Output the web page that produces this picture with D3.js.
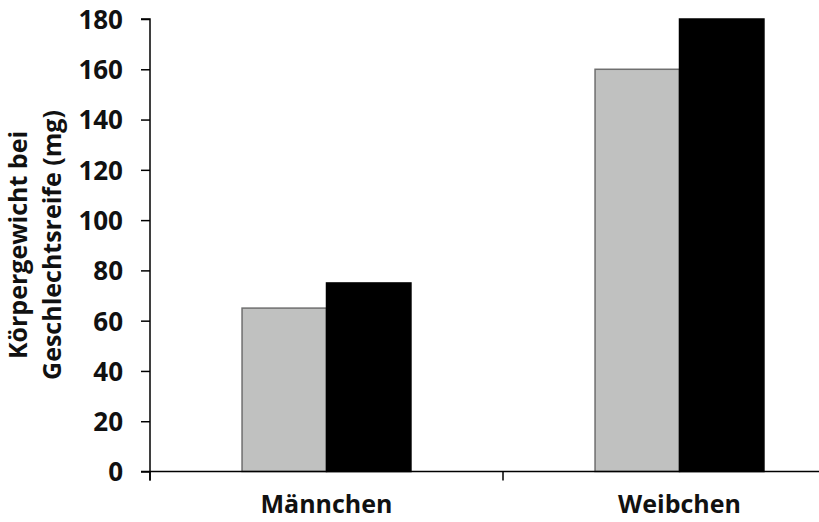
<!DOCTYPE html>
<html>
<head>
<meta charset="utf-8">
<script src="https://cdn.jsdelivr.net/npm/d3@7"></script>
<style>
  html, body { margin: 0; padding: 0; background: #fff; }
  svg { display: block; }
  text { font-family: "Open Sans", "DejaVu Sans", sans-serif; font-weight: 700; fill: #111; }
</style>
</head>
<body>
<svg id="chart" width="819" height="522"></svg>
<script>
// ---- data ----
const categories = ["Männchen", "Weibchen"];
const seriesNames = ["Serie 1", "Serie 2"];
const series1Values = [65, 160];   // grey bars
const series2Values = [75, 180];   // black bars
const yTicks = [0, 20, 40, 60, 80, 100, 120, 140, 160, 180];
const yTitleLines = ["Körpergewicht bei", "Geschlechtsreife (mg)"];

const seriesValues = [series1Values, series2Values];
const fills = ["#c0c1c0", "#000000"];
const strokes = ["#6f6f6f", "#000000"];

const svg = d3.select("#chart");

const x0 = d3.scaleBand().domain(categories).range([150, 856]).padding(0);
const x1 = d3.scaleBand().domain(seriesNames).range([0, x0.bandwidth()])
  .paddingInner(0).paddingOuter(1.09);
const y = d3.scaleLinear().domain([0, 180]).range([471.5, 19]);

// bars
const rows = categories.map((c, i) => ({ cat: c, vals: seriesNames.map((s, j) => ({ s, j, v: seriesValues[j][i] })) }));
const g = svg.append("g");
g.selectAll("g.cat").data(rows).join("g")
  .attr("class", "cat")
  .attr("transform", d => `translate(${x0(d.cat)},0)`)
  .selectAll("rect").data(d => d.vals).join("rect")
  .attr("x", d => x1(d.s))
  .attr("width", x1.bandwidth())
  .attr("y", d => y(d.v))
  .attr("height", d => y(0) - y(d.v))
  .attr("fill", d => fills[d.j])
  .attr("stroke", d => strokes[d.j])
  .attr("stroke-width", 1.5);

// y axis
const yAxis = svg.append("g")
  .attr("transform", "translate(150,0)")
  .call(d3.axisLeft(y).tickValues(yTicks).tickSize(9).tickPadding(18));
yAxis.select(".domain").attr("stroke", "#000").attr("stroke-width", 1.5)
  .attr("d", `M-9,${y(180)}H0V${y(0) + 9}`);
yAxis.selectAll(".tick line").attr("stroke", "#000").attr("stroke-width", 1.5);
yAxis.selectAll(".tick text").style("font-size", "26px").attr("fill", "#111").attr("dy", "0.36em");

// x axis
const xAxis = svg.append("g")
  .attr("transform", `translate(0,${y(0)})`)
  .call(d3.axisBottom(x0).tickSize(0).tickPadding(0));
xAxis.select(".domain").attr("stroke", "#000").attr("stroke-width", 1.5)
  .attr("d", `M141,0H819`);
xAxis.selectAll(".tick text").style("font-size", "25px").attr("fill", "#111")
  .attr("dy", 0).attr("y", 41);
// boundary tick marks between categories
const bounds = [150, x0("Weibchen"), 856];
xAxis.selectAll("line.bound").data(bounds).join("line")
  .attr("class", "bound")
  .attr("x1", d => d).attr("x2", d => d)
  .attr("y1", 0).attr("y2", 9)
  .attr("stroke", "#000").attr("stroke-width", 1.5);

// y title
const yt = svg.append("text")
  .attr("transform", `translate(27,245) rotate(-90)`)
  .attr("text-anchor", "middle")
  .style("font-size", "25px");
yt.selectAll("tspan").data(yTitleLines).join("tspan")
  .attr("x", 0)
  .attr("dy", (d, i) => i === 0 ? 0 : 34)
  .text(d => d);
</script>
</body>
</html>
